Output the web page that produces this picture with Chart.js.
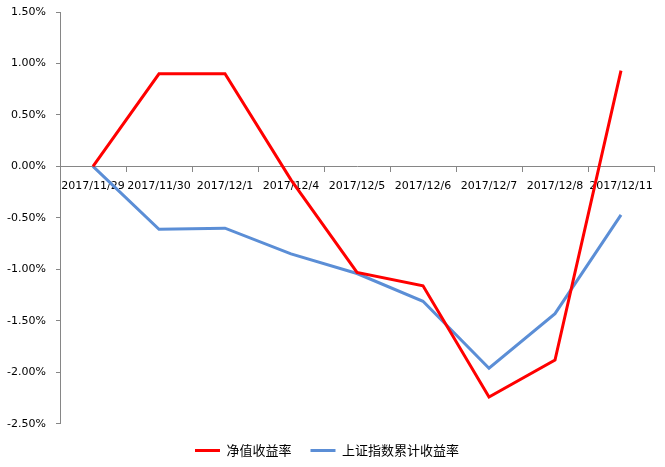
<!DOCTYPE html>
<html>
<head>
<meta charset="utf-8">
<script src="https://cdn.jsdelivr.net/npm/chart.js@4/dist/chart.umd.min.js"></script>
<style>
  html, body { margin: 0; padding: 0; background: #fff; }
  #wrap { width: 665px; height: 467px; }
</style>
</head>
<body>
<div id="wrap"><canvas id="navChart"></canvas></div>
<script>
// dates on the category axis
const dates = ["2017/11/29", "2017/11/30", "2017/12/1", "2017/12/4", "2017/12/5",
               "2017/12/6", "2017/12/7", "2017/12/8", "2017/12/11"];
// returns in percent
const navReturn = [0, 0.90, 0.90, -0.13, -1.03, -1.16, -2.24, -1.88, 0.93];
const indexReturn = [0, -0.61, -0.60, -0.85, -1.04, -1.31, -1.96, -1.43, -0.47];
const seriesNames = ["净值收益率", "上证指数累计收益率"];

const axisGray = "#868686";
const tickFont = { family: "DejaVu Sans", size: 11 };

const ctx = document.getElementById("navChart").getContext("2d");
new Chart(ctx, {
  type: "line",
  data: {
    labels: dates,
    datasets: [
      {
        label: seriesNames[0],
        data: navReturn,
        borderColor: "#ff0000",
        backgroundColor: "#ff0000",
        borderWidth: 3,
        pointRadius: 0,
        pointStyle: "line",
        tension: 0
      },
      {
        label: seriesNames[1],
        data: indexReturn,
        borderColor: "#5b8ed6",
        backgroundColor: "#5b8ed6",
        borderWidth: 3,
        pointRadius: 0,
        pointStyle: "line",
        tension: 0
      }
    ]
  },
  options: {
    responsive: true,
    maintainAspectRatio: false,
    animation: false,
    layout: { padding: { left: 0, right: 11, top: 12, bottom: 0 } },
    scales: {
      x: {
        type: "category",
        position: { y: 0 },
        offset: true,
        afterFit: s => { s.paddingTop = 0; },
        grid: {
          offset: true,
          drawOnChartArea: false,
          drawTicks: true,
          tickLength: 5,
          color: axisGray
        },
        border: { color: axisGray, width: 1 },
        ticks: {
          autoSkip: false,
          maxRotation: 0,
          minRotation: 0,
          padding: 8,
          color: "#000",
          font: tickFont
        }
      },
      y: {
        min: -2.5,
        max: 1.5,
        afterFit: s => { s.width = 60; s.paddingTop = 0; },
        grid: {
          drawOnChartArea: false,
          drawTicks: true,
          tickLength: 4,
          color: axisGray
        },
        border: { color: axisGray, width: 1 },
        ticks: {
          stepSize: 0.5,
          padding: 10,
          color: "#000",
          font: tickFont,
          callback: v => v.toFixed(2) + "%"
        }
      }
    },
    plugins: {
      legend: {
        position: "bottom",
        title: { display: true, text: " ", font: { size: 1 }, padding: 0 },
        labels: {
          usePointStyle: true,
          pointStyleWidth: 25,
          padding: 19,
          color: "#000",
          font: { family: "Noto Sans CJK SC", size: 13 }
        }
      },
      tooltip: { enabled: false }
    }
  }
});
</script>
</body>
</html>
